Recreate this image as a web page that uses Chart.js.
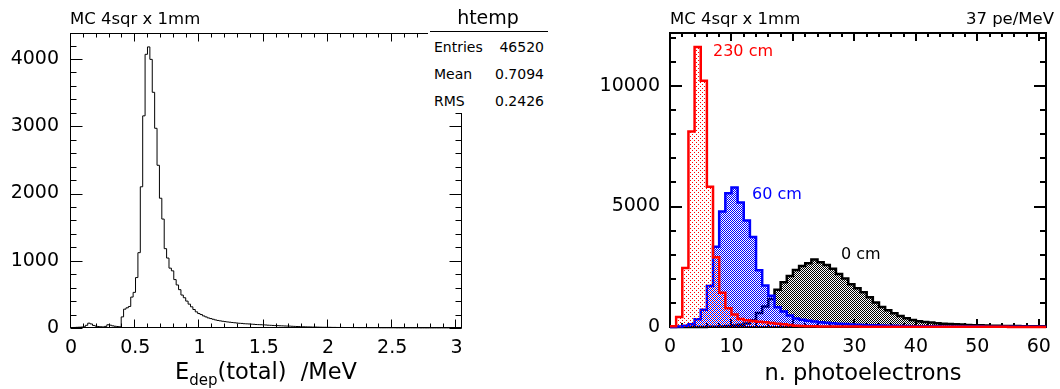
<!DOCTYPE html>
<html><head><meta charset="utf-8">
<script src="https://cdn.jsdelivr.net/npm/chart.js@4.4.1/dist/chart.umd.min.js"></script>
<style>
html,body{margin:0;padding:0;background:#fff;}
body{width:1060px;height:389px;position:relative;overflow:hidden;font-family:"DejaVu Sans",sans-serif;}
canvas{position:absolute;top:0;}
#cL{left:0;} #cR{left:530px;}
.t{position:absolute;white-space:pre;line-height:1;color:#000;}
#stats{position:absolute;left:428px;top:0;width:122px;height:113px;background:#fff;}
#statsLine{position:absolute;left:430px;top:31px;width:118px;height:1px;background:#000;}
</style></head><body>
<canvas id="cL" width="530" height="389"></canvas>
<canvas id="cR" width="530" height="389"></canvas>
<div id="stats"></div><div id="statsLine"></div>
<script>
// ---------- data ----------
// left: E_dep(total) histogram, bins start at 0
const edepBinWidth = 0.0186;
const edepCounts = [5,8,10,12,14,18,40,72,60,38,
 28,22,18,16,24,48,42,32,26,22,
 18,165,280,300,320,460,530,750,1120,2100,
 3155,4070,4180,3995,3505,2970,2420,1930,1620,1180,
 1040,890,850,720,640,570,490,450,400,355,
 315,275,240,215,200,180,165,150,140,130,
 120,112,106,100,95,90,86,82,78,74,
 70,68,64,62,60,57,55,52,50,49,
 47,45,42,40,38,36,35,33,32,30,
 29,28,26,24,22,21,19,18,17,16,
 15,14,14,13,12,11,11,10,10,9,
 9,8,8,8,7,7,7,6,6,6,
 5,5,5,5,4,4,4,4,4,3,
 3,3,3,3,3,3,2,2,2,2,
 2,2,2,2,2,2,1,1,1,1,
 1,1,1,1,1,1,1,1,1,1,
 1,1,1,1];
const edepXTickLabels = [0,0.5,1,1.5,2,2.5,3];
const edepYTickLabels = [0,1000,2000,3000,4000];
const edepStats = {name:'htemp', rows:[['Entries','46520'],['Mean','0.7094'],['RMS','0.2426']]};

// right: n. photoelectrons, 1-pe bins starting at 0
const peBinWidth = 1;
const pe230cm = [30,414,2450,8110,11620,10220,5815,2890,1420,780,
 520,330,280,250,220,195,170,140,110,80,
 55,38,30,26,23,21,20,19,18,17,
 16,15,15,14,13,13,12,12,11,11,
 10,10,9,9,9,8,8,8,7,7,
 7,6,6,6,6,5,5,5,5,5,
 4,4];
const pe60cm = [5,20,50,110,320,720,1700,3330,4790,5550,
 5790,5170,4420,3730,2360,1720,1300,820,640,480,
 350,300,260,230,200,175,155,135,120,105,
 95,85,75,68,60,55,50,45,40,36,
 33,30,28,26,24,22,20,19,18,17,
 16,15,14,13,12,12,11,10,10,9,
 9,8];
const pe0cm = [0,0,1,2,3,5,10,15,25,40,
 60,90,150,275,580,855,1160,1546,1860,2120,
 2370,2535,2645,2800,2690,2575,2415,2195,2010,1775,
 1610,1440,1230,1020,830,700,575,460,365,295,
 240,210,185,155,140,125,110,100,85,75,
 70,60,55,50,45,40,38,35,32,30,
 28,26];
const peXTickLabels = [0,10,20,30,40,50,60];
const peYTickLabels = [0,5000,10000];
const seriesLabels = ['230 cm','60 cm','0 cm'];
const seriesColors = ['#ff0000','#0000ff','#000000'];

const leftXTicks = {min:0, max:3.043, major:0.5, minor:0.1};
const leftYTicks = {min:0, max:4387, major:1000, minor:200};
const rightXTicks = {min:0, max:61.2, major:10, minor:2};
const rightYTicks = {min:0, max:12200, major:5000, minor:1000};

// ---------- helpers ----------
function histPoints(w, counts){
  const pts=[{x:0,y:0}];
  counts.forEach((c,i)=>pts.push({x:i*w,y:c}));
  const n=counts.length;
  pts.push({x:n*w,y:counts[n-1]});
  pts.push({x:n*w,y:0});
  return pts;
}
function makePattern(color,size,cells){
  const c=document.createElement('canvas'); c.width=c.height=size;
  const g=c.getContext('2d'); g.fillStyle=color;
  cells.forEach(([i,j])=>g.fillRect(i,j,1,1));
  return g.createPattern(c,'repeat');
}
function fmt(v){return String(Number(Number(v).toFixed(3)));}

const frameTicks = {
  id:'frameTicks',
  beforeDatasetsDraw(chart,args,o){
    const {ctx,chartArea:a,scales:{x,y}}=chart;
    ctx.save();
    ctx.strokeStyle='#000'; ctx.lineWidth=o.lw;
    const h=o.lw%2?0.5:0;
    const L=Math.round(a.left)-h, R=Math.round(a.right)-h, T=Math.round(a.top)+h, B=Math.round(a.bottom)-h;
    ctx.strokeRect(L,T,R-L,B-T);
    ctx.beginPath();
    const tx=o.xt, ty=o.yt;
    for(let i=0;;i++){
      const v=tx.min+i*tx.minor; if(v>tx.max+1e-9)break;
      const maj=Math.abs(v/tx.major-Math.round(v/tx.major))<1e-6;
      const len=maj?o.xMaj:o.xMaj/2;
      const px=Math.round(x.getPixelForValue(v))-h;
      ctx.moveTo(px,B); ctx.lineTo(px,B-len);
      ctx.moveTo(px,T); ctx.lineTo(px,T+len);
    }
    for(let i=0;;i++){
      const v=ty.min+i*ty.minor; if(v>ty.max+1e-9)break;
      const maj=Math.abs(v/ty.major-Math.round(v/ty.major))<1e-6;
      const len=maj?o.yMaj:o.yMaj/2;
      const py=Math.round(y.getPixelForValue(v))+h;
      ctx.moveTo(L,py); ctx.lineTo(L+len,py);
      ctx.moveTo(R,py); ctx.lineTo(R-len,py);
    }
    ctx.stroke();
    ctx.restore();
  }
};

const tickFont={family:'DejaVu Sans',size:19};
function axes(xt,yt,xLabels,yLabels,xH,yW,xPad,yPad){
  return {
    x:{type:'linear',min:xt.min,max:xt.max,grid:{display:false,drawTicks:false},border:{display:false},
       ticks:{autoSkip:false,maxRotation:0,padding:xPad,color:'#000',font:tickFont,callback:v=>fmt(v)},
       afterBuildTicks:s=>{s.ticks=xLabels.map(v=>({value:v}));},
       afterFit:s=>{s.height=xH;}},
    y:{type:'linear',min:yt.min,max:yt.max,grid:{display:false,drawTicks:false},border:{display:false},
       ticks:{autoSkip:false,padding:yPad,color:'#000',font:tickFont,callback:v=>fmt(v)},
       afterBuildTicks:s=>{s.ticks=yLabels.map(v=>({value:v}));},
       afterFit:s=>{s.width=yW;}}
  };
}
const baseOpts={responsive:false,animation:false,events:[],
  plugins:{legend:{display:false},tooltip:{enabled:false}}};

// ---------- left chart ----------
new Chart(document.getElementById('cL'),{
  type:'line',
  data:{datasets:[{data:histPoints(edepBinWidth,edepCounts),borderColor:'#000',borderWidth:1,
    stepped:'before',pointRadius:0,fill:false,borderJoinStyle:'miter',clip:{left:0,top:0,right:0,bottom:1}}]},
  options:Object.assign({},baseOpts,{
    layout:{padding:{left:0,right:68,top:33,bottom:0}},
    plugins:Object.assign({},baseOpts.plugins,{frameTicks:{lw:1,xt:leftXTicks,yt:leftYTicks,xMaj:8,yMaj:12}}),
    scales:axes(leftXTicks,leftYTicks,edepXTickLabels,edepYTickLabels,61,71,9,12)
  }),
  plugins:[frameTicks]
});

// ---------- right chart ----------
const fills=[
  makePattern('#ff0000',4,[[0,0],[2,2]]),
  makePattern('#0000ff',2,[[0,0],[1,1]]),
  makePattern('#000000',2,[[0,0],[1,1]])
];
const rightSeries=[pe230cm,pe60cm,pe0cm];
new Chart(document.getElementById('cR'),{
  type:'line',
  data:{datasets:rightSeries.map((s,i)=>({label:seriesLabels[i],data:histPoints(peBinWidth,s),
    borderColor:seriesColors[i],backgroundColor:fills[i],borderWidth:2.5,stepped:'before',pointRadius:0,
    fill:'origin',borderJoinStyle:'miter',clip:{left:0,top:0,right:0,bottom:2}}))},
  options:Object.assign({},baseOpts,{
    layout:{padding:{left:0,right:5,top:33,bottom:0}},
    plugins:Object.assign({},baseOpts.plugins,{frameTicks:{lw:2,xt:rightXTicks,yt:rightYTicks,xMaj:8,yMaj:12}}),
    scales:axes(rightXTicks,rightYTicks,peXTickLabels,peYTickLabels,62,140,9,10)
  }),
  plugins:[frameTicks]
});

// ---------- text ----------
function addText(html,x,baseline,size,opts){
  opts=opts||{};
  const d=document.createElement('div'); d.className='t'; d.innerHTML=html;
  d.style.fontSize=size+'px'; d.style.top=(baseline-0.846*size)+'px';
  if(opts.color)d.style.color=opts.color;
  document.body.appendChild(d);
  const w=d.getBoundingClientRect().width;
  let left=x; if(opts.align==='right')left=x-w; else if(opts.align==='center')left=x-w/2;
  d.style.left=left+'px';
  return d;
}
addText('MC 4sqr x 1mm',70,25,16.5);
addText(edepStats.name,488,24,19,{align:'center'});
edepStats.rows.forEach((r,i)=>{
  addText(r[0],434,52+27*i,14);
  addText(r[1],544,52+27*i,14,{align:'right'});
});
addText('E<span style="font-size:15px;position:relative;top:6px">dep</span>(total)  /MeV',266,379,22.5,{align:'center'});

addText('MC 4sqr x 1mm',670,25,16.5);
addText('37 pe/MeV',1054,25,16.5,{align:'right'});
addText('n. photoelectrons',863,380,22.5,{align:'center'});
addText(seriesLabels[0],713,57,16,{color:seriesColors[0]});
addText(seriesLabels[1],752,200,16,{color:seriesColors[1]});
addText(seriesLabels[2],841,260,16,{color:seriesColors[2]});
</script>
</body></html>
